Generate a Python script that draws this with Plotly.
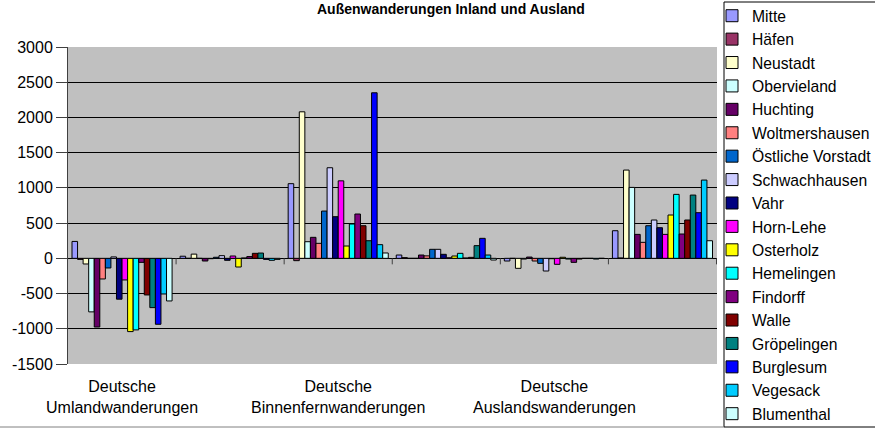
import plotly.graph_objects as go

# ---------------- data ----------------
CATEGORIES = [
    "Deutsche Umlandwanderungen",
    "Ausländer Umlandwanderungen",
    "Deutsche Binnenfernwanderungen",
    "Ausländer Binnenfernwanderungen",
    "Deutsche Auslandswanderungen",
    "Ausländer Auslandswanderungen",
]
TICK_LABELS = [
    "Deutsche<br>Umlandwanderungen",
    "",
    "Deutsche<br>Binnenfernwanderungen",
    "",
    "Deutsche<br>Auslandswanderungen",
    "",
]
Y_TICKS = [-1500, -1000, -500, 0, 500, 1000, 1500, 2000, 2500, 3000]

MITTE = [240, 30, 1060, 47, -38, 392]
HAEFEN = [-15, 0, -33, 10, 0, 5]
NEUSTADT = [-80, 60, 2080, 0, -142, 1253]
OBERVIELAND = [-760, 0, 236, 0, -10, 1007]
HUCHTING = [-975, -38, 298, 47, 18, 340]
WOLTMERSHAUSEN = [-293, -5, 213, 35, -38, 227]
OESTLICHE_VORSTADT = [-137, 15, 671, 128, -71, 463]
SCHWACHHAUSEN = [20, 38, 1286, 128, -180, 544]
VAHR = [-580, -28, 591, 57, -5, 435]
HORN_LEHE = [-307, 33, 1100, 8, -85, 340]
OSTERHOLZ = [-1040, -123, 175, 33, 15, 615]
HEMELINGEN = [-1016, 5, 487, 71, -10, 908]
FINDORFF = [-57, 25, 629, 5, -57, 345]
WALLE = [-520, 71, 463, 14, -10, 544]
GROEPELINGEN = [-700, 75, 250, 180, 0, 898]
BURGLESUM = [-936, -15, 2350, 284, 0, 648]
VEGESACK = [-506, -28, 194, 47, -10, 1111]
BLUMENTHAL = [-605, -15, 76, -24, 0, 250]

SERIES = [
    ("Mitte", MITTE),
    ("Häfen", HAEFEN),
    ("Neustadt", NEUSTADT),
    ("Obervieland", OBERVIELAND),
    ("Huchting", HUCHTING),
    ("Woltmershausen", WOLTMERSHAUSEN),
    ("Östliche Vorstadt", OESTLICHE_VORSTADT),
    ("Schwachhausen", SCHWACHHAUSEN),
    ("Vahr", VAHR),
    ("Horn-Lehe", HORN_LEHE),
    ("Osterholz", OSTERHOLZ),
    ("Hemelingen", HEMELINGEN),
    ("Findorff", FINDORFF),
    ("Walle", WALLE),
    ("Gröpelingen", GROEPELINGEN),
    ("Burglesum", BURGLESUM),
    ("Vegesack", VEGESACK),
    ("Blumenthal", BLUMENTHAL),
]

# ---------------- style ----------------
COLORS = [
    "#9999FF", "#993366", "#FFFFCC", "#CCFFFF", "#660066", "#FF8080",
    "#0066CC", "#CCCCFF", "#000080", "#FF00FF", "#FFFF00", "#00FFFF",
    "#800080", "#800000", "#008080", "#0000FF", "#00CCFF", "#CCFFFF",
]
FONT = "Arial, 'Liberation Sans', sans-serif"

W, H = 875, 429
L, R, T, B = 68, 158, 47, 65
PW = W - L - R
PH = H - T - B


def px_x(px):
    return (px - L) / PW


def px_y(py):
    return (H - B - py) / PH


fig = go.Figure()
for i, (name, vals) in enumerate(SERIES):
    fig.add_trace(go.Bar(
        name=name,
        x=CATEGORIES,
        y=vals,
        marker=dict(color=COLORS[i], line=dict(color="black", width=1)),
    ))

shapes = [
    # legend frame
    dict(type="rect", xref="paper", yref="paper",
         x0=px_x(724), x1=px_x(890), y0=px_y(427), y1=px_y(2),
         line=dict(color="black", width=1), fillcolor="white", layer="below"),
    # chart area bottom border
    dict(type="line", xref="paper", yref="paper",
         x0=px_x(0), x1=px_x(724), y0=px_y(427), y1=px_y(427),
         line=dict(color="#808080", width=1)),
]
# category separators on the zero line
for k in range(len(CATEGORIES)):
    shapes.append(dict(type="line", xref="x", yref="y", ysizemode="pixel",
                       yanchor=0, x0=k + 0.5, x1=k + 0.5, y0=0, y1=-6,
                       line=dict(color="#404040", width=1)))

fig.update_layout(
    width=W, height=H,
    margin=dict(l=L, r=R, t=T, b=B, autoexpand=False),
    paper_bgcolor="white",
    plot_bgcolor="#C0C0C0",
    barmode="group",
    bargap=0.074,
    bargroupgap=0,
    font=dict(family=FONT, size=16, color="black"),
    showlegend=True,
    legend=dict(
        x=px_x(712), xanchor="left", xref="paper",
        y=px_y(-1), yanchor="top", yref="paper",
        maxheight=460,
        bgcolor="rgba(0,0,0,0)", borderwidth=0,
        font=dict(family=FONT, size=15.7, color="black"),
        traceorder="normal",
    ),
    xaxis=dict(
        type="category",
        categoryorder="array", categoryarray=CATEGORIES,
        tickmode="array", tickvals=CATEGORIES, ticktext=TICK_LABELS,
        ticks="", showgrid=False, showline=False, zeroline=False,
        tickfont=dict(family=FONT, size=16, color="black"),
        ticklabelstandoff=11,
        fixedrange=True,
    ),
    yaxis=dict(
        range=[-1500, 3000],
        tickmode="array", tickvals=Y_TICKS,
        ticktext=[str(v) for v in Y_TICKS],
        showgrid=True, gridcolor="black", gridwidth=1,
        zeroline=True, zerolinecolor="black", zerolinewidth=1,
        showline=True, linecolor="#404040", linewidth=1,
        ticks="outside", ticklen=11, tickcolor="#404040",
        tickfont=dict(family=FONT, size=16, color="black"),
        fixedrange=True,
    ),
    shapes=shapes,
    annotations=[dict(
        text="<b>Außenwanderungen Inland und Ausland</b>",
        xref="paper", yref="paper",
        x=px_x(451), y=px_y(9), xanchor="center", yanchor="middle",
        showarrow=False,
        font=dict(family=FONT, size=14, color="black"),
    )],
)

fig.write_html(
    "out.html",
    config={"displayModeBar": False, "staticPlot": True},
    post_script="document.body.style.margin='0';document.body.style.overflow='hidden';",
)
